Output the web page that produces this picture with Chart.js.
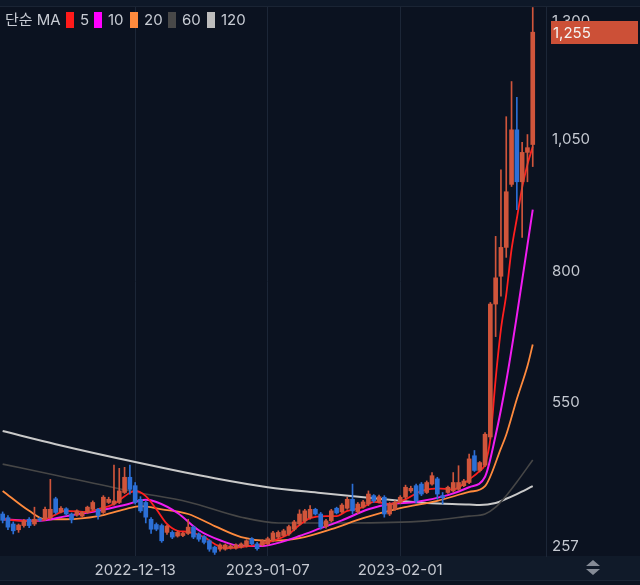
<!DOCTYPE html>
<html>
<head>
<meta charset="utf-8">
<script src="https://cdn.jsdelivr.net/npm/chart.js@4"></script>
<style>
  html, body { margin: 0; padding: 0; background: #0b1220; }
  canvas { display: block; }
</style>
</head>
<body>
<canvas id="chart" width="640" height="585"></canvas>
<script>
// daily candles, 2022-11-18 .. 2023-02-26 (+2 empty slots on the right)
const startDay = Date.UTC(2022, 10, 18);
const dates = [];
for (let i = 0; i < 103; i++) dates.push(new Date(startDay + i * 86400000).toISOString().slice(0, 10));

const opens  = [337,330,318,307,315,327,318,328,327,330, 366,341,347,337,335,333,340,346,346,340,
                359,356,359,378,407,391,365,359,327,317, 315,302,302,295,296,300,312,299,294,286,
                274,270,270,272,272,274,276,290,280,278, 280,287,293,296,299,308,318,324,330,346,
                337,313,324,348,341,348,365,341,350,356, 372,360,369,337,346,359,369,381,391,394,
                378,394,404,372,378,381,384,391,397,448, 420,430,484,737,790,845,965,1069,970,1026,
                1041];
const highs  = [341,334,322,318,327,330,350,330,350,403, 369,351,349,339,345,342,352,362,348,372,
                369,430,424,426,430,397,370,362,330,320, 318,316,305,305,302,327,314,301,296,288,
                276,280,280,279,280,282,288,292,283,288, 293,304,305,308,316,325,345,346,353,348,
                340,327,346,350,357,369,394,359,363,381, 374,373,372,359,362,372,392,390,394,397,
                400,416,407,378,390,416,429,403,451,458, 437,492,740,866,993,1094,1161,1131,1045,1060,
                1302];
const lows   = [320,307,299,302,312,311,315,323,325,327, 337,339,335,320,333,331,338,344,327,338,
                357,354,357,376,375,356,340,320,300,305, 283,298,290,293,294,298,290,285,280,266,
                260,266,268,270,270,272,274,278,268,276, 278,284,290,294,296,305,315,320,327,335,
                308,310,322,337,339,346,337,338,348,353, 359,358,331,334,344,357,366,378,358,372,
                376,392,365,356,376,379,382,389,395,418, 417,427,480,675,752,826,961,917,864,970,
                999];
const closes = [325,312,305,316,324,315,327,325,346,346, 340,348,337,326,343,340,350,359,334,369,
                365,362,381,407,384,359,343,331,308,308, 286,314,293,302,300,312,293,289,283,270,
                264,278,278,276,278,280,286,280,271,286, 290,301,302,305,313,322,337,343,346,337,
                312,324,343,339,354,365,343,356,360,375, 362,370,337,356,359,369,388,386,362,375,
                397,410,375,368,388,397,397,400,442,420, 435,489,737,787,845,951,1069,970,1026,1035,
                1255];

// moving averages (day index -> value)
const ma5Days   = [0,4,8,12,16,18,21,23,25,27,29,31,33,35,38,40,42,45,48,51,54,56,58,61,63,65,68,70,73,76,79,82,85,88,90,91,92,93,94,95,96,97,98,99,100];
const ma5Vals   = [327,324,327,343,341,346,356,371,381,371,346,318,305,303,293,280,272,274,278,286,299,316,329,333,333,343,350,360,356,365,381,386,384,403,419,432,480,594,689,755,841,900,959,1003,1037];
const ma10Days  = [0,7,12,18,23,27,29,33,37,41,45,49,52,56,60,64,69,73,78,84,88,91,93,95,97,100];
const ma10Vals  = [327,324,333,343,354,364,360,339,306,287,276,276,282,295,310,325,346,356,360,373,388,408,487,590,715,917];
const ma20Days  = [0,5,8,12,18,23,26,30,35,40,45,50,56,62,68,75,82,88,91,94,95,97,99,100];
const ma20Vals  = [381,343,327,327,333,346,352,346,337,314,293,286,291,308,329,348,362,379,390,462,488,556,619,660];
const ma60Days  = [0,10,25,35,45,52,65,80,88,91,93,95,97,100];
const ma60Vals  = [432,411,379,360,331,320,320,324,333,337,350,372,398,440];
const ma120Days = [0,10,25,40,50,60,70,80,88,90,93,95,97,100];
const ma120Vals = [495,470,436,405,388,377,367,358,355,354,358,366,375,390];

const yTicks = [257, 550, 800, 1050, 1300];
const xTickLabels = ['2022-12-13', '2023-01-07', '2023-02-01'];
const lastPrice = 1255;

const UP = '#d0553b';
const DOWN = '#2c6fd6';
const FONT = "Inter, 'Noto Sans CJK KR', sans-serif";
const candleColors = opens.map((o, i) => closes[i] >= o ? UP : DOWN);

function maLine(days, vals, color, width, order) {
  return {
    type: 'line',
    data: days.map((d, k) => ({ x: dates[d], y: vals[k] })),
    borderColor: color,
    borderWidth: width,
    pointRadius: 0,
    cubicInterpolationMode: 'monotone',
    spanGaps: true,
    order: order
  };
}

const frame = {
  id: 'frame',
  beforeDraw(chart) {
    const c = chart.ctx;
    const a = chart.chartArea;
    c.save();
    c.fillStyle = '#0b1220';
    c.fillRect(0, 0, chart.width, chart.height);
    c.fillStyle = '#0e1828';
    c.fillRect(0, 0, chart.width, a.top - 1);
    c.fillStyle = '#1a2434';
    c.fillRect(0, a.top - 1, chart.width, 1);
    // date band
    c.fillStyle = '#101a29';
    c.fillRect(0, a.bottom, chart.width, 24);
    c.fillStyle = '#1a2434';
    c.fillRect(0, a.bottom + 24, chart.width, 1);
    c.restore();
  },
  afterDraw(chart) {
    const c = chart.ctx;
    const y = chart.scales.y;
    c.save();
    // price labels
    c.font = '15px ' + FONT;
    c.fillStyle = '#c5c9d1';
    c.textBaseline = 'middle';
    c.textAlign = 'left';
    yTicks.forEach(v => {
      let py = y.getPixelForValue(v);
      py = Math.min(546, Math.max(21, py));
      c.fillText(v.toLocaleString('en-US'), 552, py);
    });
    // last price box
    c.fillStyle = '#cc5037';
    c.fillRect(551, 21, 87, 23);
    c.fillStyle = '#f4f4f4';
    c.fillText(lastPrice.toLocaleString('en-US'), 553, 33);
    // legend
    c.fillStyle = '#c8ccd4';
    c.textBaseline = 'middle';
    c.fillText('단순 MA', 5, 20);
    const leg = [['5', '#ff1a1a', 66], ['10', '#ff00ff', 94], ['20', '#ff8a3d', 130],
                 ['60', '#484848', 168], ['120', '#bdbdbd', 207]];
    leg.forEach(([t, col, x]) => {
      c.fillStyle = col;
      c.fillRect(x, 12, 8, 16);
      c.fillStyle = '#c8ccd4';
      c.fillText(t, x + 14, 20);
    });
    // scale toggle icon
    c.fillStyle = '#858b96';
    c.beginPath();
    c.moveTo(593, 560); c.lineTo(600, 566); c.lineTo(586, 566); c.closePath();
    c.moveTo(586, 569); c.lineTo(600, 569); c.lineTo(593, 575); c.closePath();
    c.fill();
    c.restore();
  }
};

new Chart(document.getElementById('chart'), {
  type: 'bar',
  data: {
    labels: dates,
    datasets: [
      {
        data: lows.map((l, i) => [l, highs[i]]),
        backgroundColor: candleColors,
        barThickness: 1,
        grouped: false,
        order: 1
      },
      {
        data: opens.map((o, i) => [o, closes[i]]),
        backgroundColor: candleColors,
        barThickness: 4,
        minBarLength: 1,
        grouped: false,
        order: 0
      },
      maLine(ma120Days, ma120Vals, '#c9c9c9', 2, 10),
      maLine(ma60Days, ma60Vals, '#464646', 1.6, 9),
      maLine(ma20Days, ma20Vals, '#ff8a3d', 1.8, 8),
      maLine(ma10Days, ma10Vals, '#f01cf0', 2, 7),
      maLine(ma5Days, ma5Vals, '#ff1f1f', 1.8, 6)
    ]
  },
  options: {
    responsive: false,
    animation: false,
    devicePixelRatio: 1,
    layout: { padding: { top: 7, bottom: 5, left: 0, right: 0 } },
    plugins: { legend: { display: false }, tooltip: { enabled: false } },
    scales: {
      x: {
        offset: true,
        afterFit: s => { s.height = 24; },
        afterBuildTicks: s => { s.ticks = xTickLabels.map(l => ({ value: dates.indexOf(l) })); },
        grid: { offset: false, color: '#1c2637', drawTicks: false },
        border: { display: false },
        ticks: {
          autoSkip: false,
          maxRotation: 0,
          padding: 5,
          color: '#c5c9d1',
          font: { family: FONT, size: 15 },
          callback: v => dates[v]
        }
      },
      y: {
        position: 'right',
        min: 257,
        max: 1303,
        afterFit: s => { s.width = 94; },
        grid: { display: false },
        border: { display: true, color: '#1c2637' },
        ticks: { display: false }
      }
    }
  },
  plugins: [frame]
});
</script>
</body>
</html>
